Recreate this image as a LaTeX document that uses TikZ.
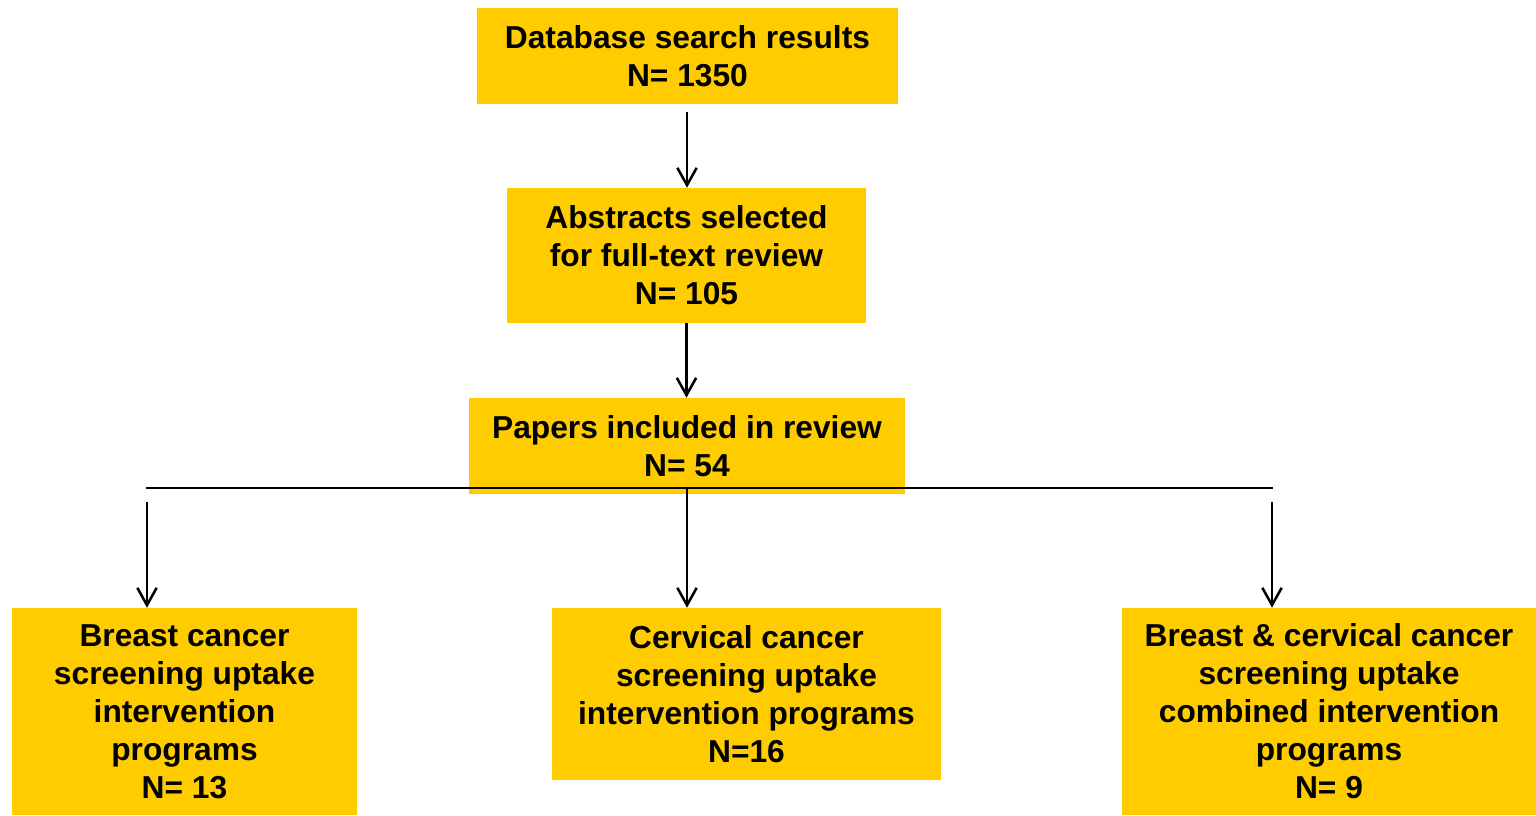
\documentclass[tikz,border=0pt]{standalone}
\usepackage{fontspec}
\setmainfont{Liberation Sans}
\usetikzlibrary{arrows.meta}
\definecolor{boxfill}{HTML}{FFCC00}
\begin{document}
\begin{tikzpicture}[x=0.75pt,y=-0.75pt,
  stage/.style={fill=boxfill,draw=none,inner sep=0pt,align=center,
    font=\fontsize{23.8}{28.5}\selectfont\bfseries},
  link/.style={line width=1.9pt,-{Straight Barb[length=13pt,width=14.5pt]}},
  rule/.style={line width=1.9pt}]
\useasboundingbox (0,0) rectangle (1536,815);
% boxes: centre at middle of pixel extents, text lowered slightly
\node[stage,minimum width=421*0.75pt,minimum height=96*0.75pt] (db) at (687.5,56)
  {\raisebox{-1.2pt}{\parbox{300pt}{\centering Database search results\\N= 1350}}};
\node[stage,minimum width=359*0.75pt,minimum height=135*0.75pt] (abs) at (686.5,255.5)
  {\raisebox{-1.2pt}{\parbox{260pt}{\centering Abstracts selected\\for full-text review\\N= 105}}};
\node[stage,minimum width=436*0.75pt,minimum height=96*0.75pt] (pap) at (687,446)
  {\raisebox{-1.2pt}{\parbox{320pt}{\centering Papers included in review\\N= 54}}};
\node[stage,minimum width=345*0.75pt,minimum height=207*0.75pt] (brc) at (184.5,711.5)
  {\raisebox{-2pt}{\parbox{250pt}{\centering Breast cancer\\screening uptake\\intervention\\programs\\N= 13}}};
\node[stage,minimum width=389*0.75pt,minimum height=172*0.75pt] (cer) at (746.5,694)
  {\raisebox{-1.2pt}{\parbox{280pt}{\centering Cervical cancer\\screening uptake\\intervention programs\\N=16}}};
\node[stage,minimum width=414*0.75pt,minimum height=207*0.75pt] (both) at (1329,711.5)
  {\raisebox{-2pt}{\parbox{300pt}{\centering Breast \& cervical cancer\\screening uptake\\combined intervention\\programs\\N= 9}}};
% connector end points
\coordinate (dbout) at (687,112);
\coordinate (hl) at (146,488);
\coordinate (hr) at (1273,488);
\coordinate (lstart) at (147,502);
\coordinate (rstart) at (1272,502);
\coordinate (mstart) at (687,488);
% connectors
\draw[link] (dbout) -- (dbout |- abs.north);
\draw[link] (abs.south) -- (abs.south |- pap.north);
\draw[rule] (hl) -- (hr);
\draw[link] (mstart) -- (mstart |- cer.north);
\draw[link] (lstart) -- (lstart |- brc.north);
\draw[link] (rstart) -- (rstart |- both.north);
\end{tikzpicture}
\end{document}
